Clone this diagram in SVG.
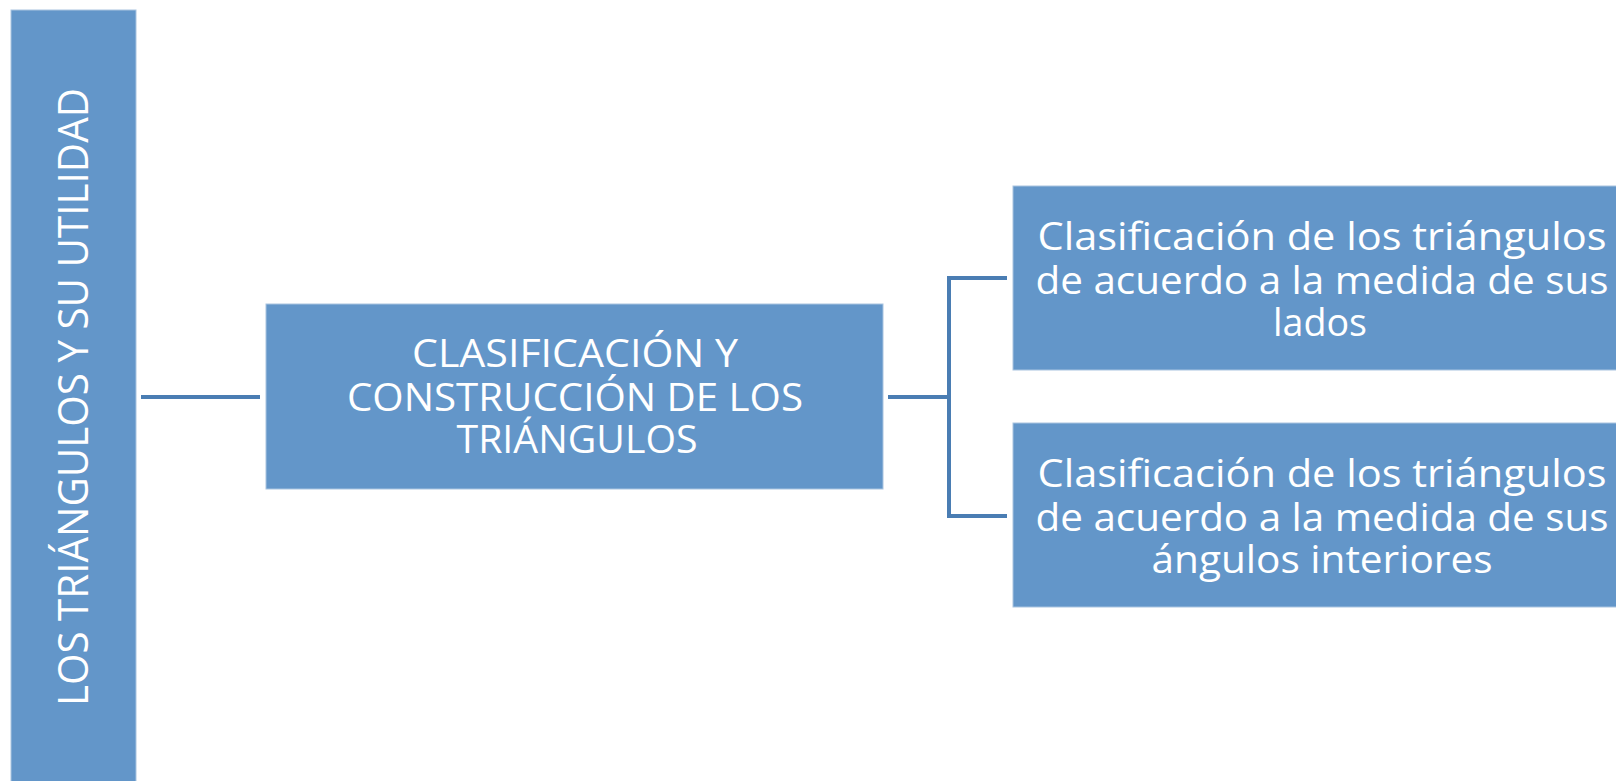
<svg xmlns="http://www.w3.org/2000/svg" width="1616" height="781" viewBox="0 0 1616 781">
<style>
.box{fill:#6396c9;stroke:#a9c4e0;stroke-width:1}
.t{fill:#ffffff;font-family:"Open Sans","DejaVu Sans",sans-serif;text-anchor:middle}
.cap{font-size:38px}
.low{font-size:39px}
.conn{fill:none;stroke:#4a7db3;stroke-width:4}
</style>
<rect width="1616" height="781" fill="#ffffff"/>
<g id="connectors">
<line class="conn" x1="141" y1="397" x2="260" y2="397"/>
<line class="conn" x1="888" y1="397" x2="949" y2="397"/>
<polyline class="conn" points="1007,278 949,278 949,516 1007,516"/>
</g>
<g id="node-root">
<rect class="box" x="11" y="10" width="125" height="780"/>
<text class="t" font-size="42" transform="translate(88,397) rotate(-90)" textLength="618" lengthAdjust="spacingAndGlyphs">LOS TRIÁNGULOS Y SU UTILIDAD</text>
</g>
<g id="node-mid">
<rect class="box" x="266" y="304" width="617" height="185"/>
<text class="t cap" x="575" y="367" textLength="326" lengthAdjust="spacingAndGlyphs">CLASIFICACIÓN Y</text>
<text class="t cap" x="575" y="411" textLength="456" lengthAdjust="spacingAndGlyphs">CONSTRUCCIÓN DE LOS</text>
<text class="t cap" x="577" y="453" textLength="241" lengthAdjust="spacingAndGlyphs">TRIÁNGULOS</text>
</g>
<g id="node-lados">
<rect class="box" x="1013" y="186" width="610" height="184"/>
<text class="t low" x="1322" y="250" textLength="569" lengthAdjust="spacingAndGlyphs">Clasificación de los triángulos</text>
<text class="t low" x="1322" y="294" textLength="573" lengthAdjust="spacingAndGlyphs">de acuerdo a la medida de sus</text>
<text class="t low" x="1320" y="336" textLength="94" lengthAdjust="spacingAndGlyphs">lados</text>
</g>
<g id="node-angulos">
<rect class="box" x="1013" y="423" width="610" height="184"/>
<text class="t low" x="1322" y="487" textLength="569" lengthAdjust="spacingAndGlyphs">Clasificación de los triángulos</text>
<text class="t low" x="1322" y="531" textLength="573" lengthAdjust="spacingAndGlyphs">de acuerdo a la medida de sus</text>
<text class="t low" x="1322" y="573" textLength="341" lengthAdjust="spacingAndGlyphs">ángulos interiores</text>
</g>
</svg>
